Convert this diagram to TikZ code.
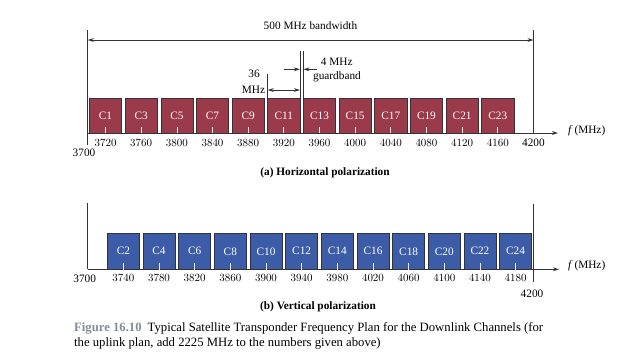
\documentclass[tikz,border=0pt]{standalone}
\usepackage{fontspec}
\setmainfont{Liberation Serif}
\usetikzlibrary{arrows.meta}
\definecolor{hred}{HTML}{9B3A4A}
\definecolor{vblue}{HTML}{3C5CA8}
\definecolor{linegray}{HTML}{333333}
\definecolor{figgray}{HTML}{7F8C9A}
\newcommand\FX[1]{(87.7+(#1-3700)*0.8915)}
\tikzset{
  lbl/.style={font=\fontsize{11.3}{13}\selectfont, inner sep=0pt},
  hbox/.style={draw=linegray, line width=0.6pt, fill=hred, text=white, minimum width=32.1pt, minimum height=35pt, inner sep=0pt, font=\fontsize{11.3}{13}\selectfont},
  vbox/.style={draw=linegray, line width=0.6pt, fill=vblue, text=white, minimum width=32.1pt, minimum height=36pt, inner sep=0pt, font=\fontsize{11.3}{13}\selectfont},
  axline/.style={draw=linegray, line width=0.9pt},
  arrR/.style={-{Stealth[length=6pt,width=3.8pt]}},
  arrLR/.style={{Stealth[length=6pt,width=3.8pt]}-{Stealth[length=6pt,width=3.8pt]}},
  tickw/.style={draw=white!85!gray, line width=0.7pt},
  figcap/.style={font=\fontsize{12.7}{15}\selectfont, inner sep=0pt, anchor=west}
}
\begin{document}
\begin{tikzpicture}[x=1pt,y=-1pt]
\useasboundingbox (0,0) rectangle (624,360);
% ---------- (a) horizontal ----------
\coordinate (a0top) at ({\FX{3700}},30);
\coordinate (a0bot) at ({\FX{3700}},145);
\coordinate (a0ax) at ({\FX{3700}},133);
\coordinate (a5top) at ({\FX{4200}},30);
\coordinate (a5ax) at ({\FX{4200}},133);
\coordinate (aend) at (558,133);
\draw[axline] (a0top) -- (a0bot);
\draw[axline] (a5top) -- (a5ax);
\draw[axline,arrR] (a0ax) -- (aend);
\coordinate (bwl) at ({\FX{3700}},40);
\coordinate (bwr) at ({\FX{4200}},40);
\draw[axline,arrLR] (bwl) -- (bwr);
\node[lbl] (bwlabel) at (310.5,26) {500 MHz bandwidth};
\foreach \k [evaluate=\k as \f using {3720+(\k-1)*20}] in {1,3,...,23} {
  \node[hbox] (h\k) at ({\FX{\f}},115.5) {C\k};
  \draw[tickw] ({\FX{\f}},127) -- (h\k.south);
  \node[lbl] (ht\k) at ({\FX{\f}},143) {\pgfmathprintnumber[int detect,1000 sep={}]{\f}};
}
\node[lbl] (a3700) at (84,153) {3700};
\node[lbl] (a4200) at ({\FX{4200}},143) {4200};
\node[lbl,anchor=west] (afl) at (568,131) {\textit{f}\,(MHz)};
% 36 MHz
\coordinate (m36top) at ({\FX{3902}},74);
\coordinate (m36bot) at ({\FX{3902}},98);
\draw[axline,line width=0.7pt] (m36top) -- (m36bot);
\coordinate (g1top) at ({\FX{3938}},51);
\coordinate (g1bot) at ({\FX{3938}},98);
\coordinate (g2top) at ({\FX{3942}},51);
\coordinate (g2bot) at ({\FX{3942}},98);
\draw[axline,line width=0.7pt] (g1top) -- (g1bot);
\draw[axline,line width=0.7pt] (g2top) -- (g2bot);
\coordinate (m36l) at ({\FX{3902}},90);
\coordinate (m36r) at ({\FX{3938}},90);
\draw[axline,line width=0.7pt,arrLR] (m36l) -- (m36r);
\node[lbl] (l36) at (254,74) {36};
\node[lbl] (lmhz) at (253.5,89.5) {MHz};
\coordinate (gla) at (284,69.3);
\coordinate (glb) at ({\FX{3938}},69.3);
\coordinate (gra) at (317,69.3);
\coordinate (grb) at ({\FX{3942}},69.3);
\draw[axline,line width=0.7pt,arrR] (gla) -- (glb);
\draw[axline,line width=0.7pt,arrR] (gra) -- (grb);
\node[lbl] (g4) at (336.7,61.7) {4 MHz};
\node[lbl] (gband) at (337,76.7) {guardband};
\node[lbl,font=\fontsize{11.3}{13}\selectfont\bfseries] (acap) at (325,173) {(a) Horizontal polarization};
% ---------- (b) vertical ----------
\coordinate (b0top) at ({\FX{3700}},203.3);
\coordinate (b0ax) at ({\FX{3700}},269.3);
\coordinate (b5top) at ({\FX{4200}},204);
\coordinate (b5bot) at ({\FX{4200}},282);
\coordinate (bend) at (559,269.3);
\draw[axline] (b0top) -- (b0ax);
\draw[axline] (b5top) -- (b5bot);
\draw[axline,arrR] (b0ax) -- (bend);
\foreach \k [evaluate=\k as \f using {3740+(\k-2)*20}] in {2,4,...,24} {
  \node[vbox] (v\k) at ({\FX{\f}},251.3) {C\k};
  \draw[tickw] ({\FX{\f}},262.7) -- (v\k.south);
  \node[lbl] (vt\k) at ({\FX{\f}},278.3) {\pgfmathprintnumber[int detect,1000 sep={}]{\f}};
}
\node[lbl] (b3700) at (84.7,278.3) {3700};
\node[lbl] (b4200) at (532,294) {4200};
\node[lbl,anchor=west] (bfl) at (568,266) {\textit{f}\,(MHz)};
\node[lbl,font=\fontsize{11.3}{13}\selectfont\bfseries] (bcap) at (318,307) {(b) Vertical polarization};
% ---------- caption ----------
\node[figcap] (cap1) at (74,328) {{\color{figgray}\bfseries Figure 16.10}\hspace{6pt}Typical Satellite Transponder Frequency Plan for the Downlink Channels (for};
\node[figcap] (cap2) at (74,343) {the uplink plan, add 2225 MHz to the numbers given above)};
\end{tikzpicture}
\end{document}
